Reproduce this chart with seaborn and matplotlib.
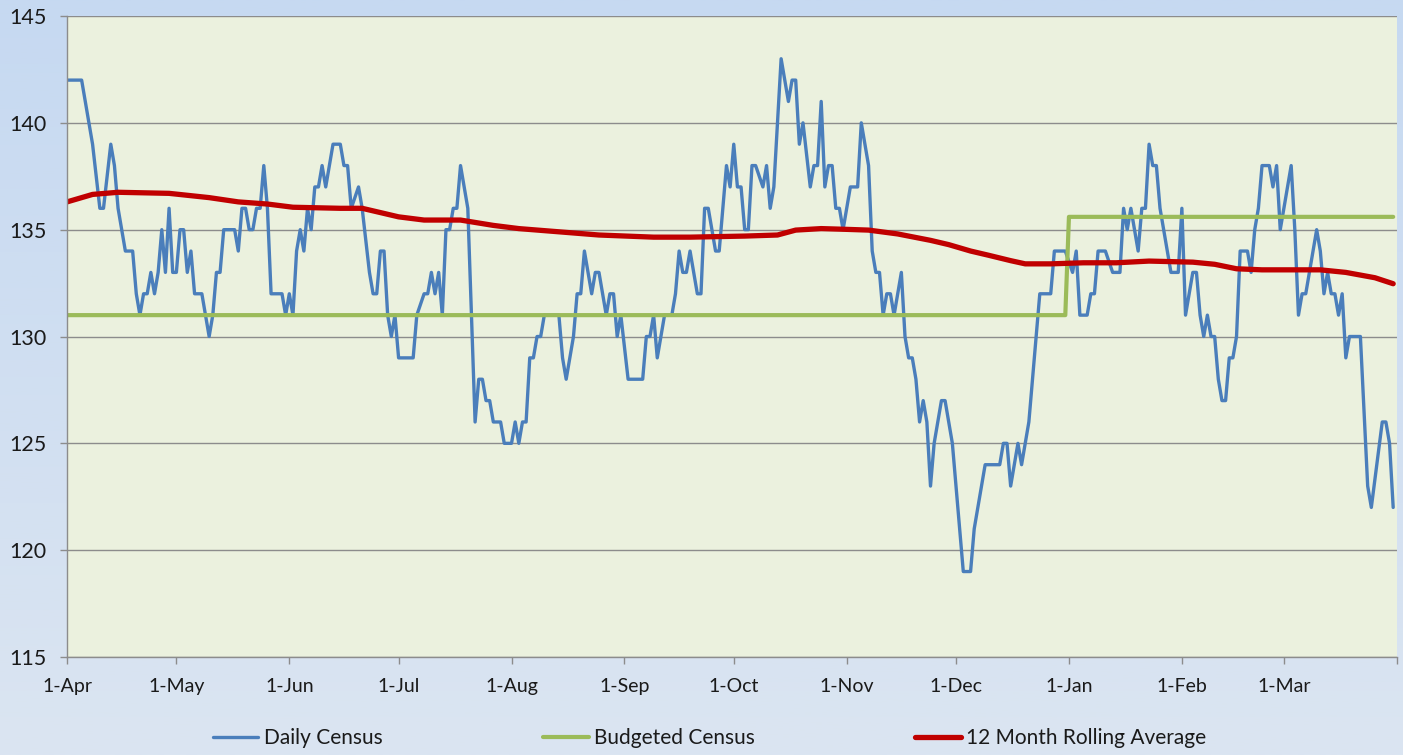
import numpy as np
import pandas as pd
import matplotlib
matplotlib.use("Agg")
import matplotlib.pyplot as plt
from matplotlib.colors import LinearSegmentedColormap
import seaborn as sns

# fiscal year, 1-Apr to 31-Mar
START = "2013-04-01"
MONTH_LABELS = ["1-Apr", "1-May", "1-Jun", "1-Jul", "1-Aug", "1-Sep",
                "1-Oct", "1-Nov", "1-Dec", "1-Jan", "1-Feb", "1-Mar"]

# daily census, read at the turning points of the line (day offset from 1-Apr)
CENSUS_DAY = [
    0, 4, 7, 9, 10, 12, 13, 14, 15, 16, 18, 19, 20, 21, 22, 23, 24, 25, 26, 27,
    28, 29, 30, 31, 32, 33, 34, 35, 37, 39, 40, 41, 42, 43, 46, 47, 48, 49, 50, 51,
    52, 53, 54, 55, 56, 59, 60, 61, 62, 63,
    64, 65, 66, 67, 68, 69, 70, 71, 73, 75, 76, 77, 78, 80, 81, 83, 84, 85, 86, 87,
    88, 89, 90, 91, 95, 96, 98, 99, 100, 101, 102, 103, 104, 105, 106, 107, 108, 110, 111, 112,
    113, 114, 115, 116, 117, 119, 120, 122, 123, 124,
    125, 126, 127, 128, 129, 130, 131, 135, 136, 137, 139, 140, 141, 142, 144, 145, 146, 147, 148, 149,
    150, 151, 152, 154, 158, 159, 160, 161, 162, 164, 166, 167, 168, 169, 170, 171, 173, 174, 175, 176,
    178, 179, 181, 182, 183, 184, 185, 186,
    187, 188, 189, 191, 192, 193, 194, 196, 198, 199, 200, 201, 202, 204, 205, 206, 207, 208, 209, 210,
    211, 212, 213, 214, 215, 217, 218, 219, 220, 221, 222, 223, 224, 225, 226, 227, 229, 230, 231, 232,
    233, 234, 235, 236, 237, 238, 240, 241, 243,
    246, 248, 249, 250, 252, 256, 257, 258, 259, 261, 262, 263, 264, 265, 266, 267, 270, 271, 274, 276,
    277, 278, 280, 281, 282, 283, 285, 287, 289, 290, 291, 292, 294, 295, 296, 297, 298, 299, 300, 303,
    305, 306, 307,
    309, 310, 311, 312, 313, 314, 315, 316, 317, 318, 319, 320, 321, 322, 324, 325, 326, 327, 328, 330,
    331, 332, 333, 336, 337, 338, 339, 340, 343, 344, 345, 346, 347, 348, 349, 350, 351, 352, 355, 357,
    358, 361, 362, 363, 364,
]
CENSUS = [
    142, 142, 139, 136, 136, 139, 138, 136, 135, 134, 134, 132, 131, 132, 132, 133, 132, 133, 135, 133,
    136, 133, 133, 135, 135, 133, 134, 132, 132, 130, 131, 133, 133, 135, 135, 134, 136, 136, 135, 135,
    136, 136, 138, 136, 132, 132, 131, 132, 131, 134,
    135, 134, 136, 135, 137, 137, 138, 137, 139, 139, 138, 138, 136, 137, 136, 133, 132, 132, 134, 134,
    131, 130, 131, 129, 129, 131, 132, 132, 133, 132, 133, 131, 135, 135, 136, 136, 138, 136, 131, 126,
    128, 128, 127, 127, 126, 126, 125, 125, 126, 125,
    126, 126, 129, 129, 130, 130, 131, 131, 129, 128, 130, 132, 132, 134, 132, 133, 133, 132, 131, 132,
    132, 130, 131, 128, 128, 130, 130, 131, 129, 131, 131, 132, 134, 133, 133, 134, 132, 132, 136, 136,
    134, 134, 138, 137, 139, 137, 137, 135,
    135, 138, 138, 137, 138, 136, 137, 143, 141, 142, 142, 139, 140, 137, 138, 138, 141, 137, 138, 138,
    136, 136, 135, 136, 137, 137, 140, 139, 138, 134, 133, 133, 131, 132, 132, 131, 133, 130, 129, 129,
    128, 126, 127, 126, 123, 125, 127, 127, 125,
    119, 119, 121, 122, 124, 124, 125, 125, 123, 125, 124, 125, 126, 128, 130, 132, 132, 134, 134, 133,
    134, 131, 131, 132, 132, 134, 134, 133, 133, 136, 135, 136, 134, 136, 136, 139, 138, 138, 136, 133,
    133, 136, 131,
    133, 133, 131, 130, 131, 130, 130, 128, 127, 127, 129, 129, 130, 134, 134, 133, 135, 136, 138, 138,
    137, 138, 135, 138, 135, 131, 132, 132, 135, 134, 132, 133, 132, 132, 131, 132, 129, 130, 130, 123,
    122, 126, 126, 125, 122,
]

# budgeted census per month (Apr..Mar)
BUDGET_MONTHLY = [131, 131, 131, 131, 131, 131, 131, 131, 131, 135.6, 135.6, 135.6]

# 12 month rolling average
ROLLING_DAY = [0, 7, 14, 28, 39, 47, 55, 62, 75, 81, 91, 98, 108, 117, 124, 135, 146, 161,
               171, 186, 195, 200, 207, 213, 220, 228, 237, 242, 248, 253, 259, 263, 270,
               279, 288, 297, 304, 309, 315, 321, 328, 344, 351, 359, 364]
ROLLING = [136.3, 136.65, 136.75, 136.7, 136.5, 136.3, 136.2, 136.05, 136.0, 136.0, 135.6,
           135.45, 135.45, 135.2, 135.05, 134.9, 134.75, 134.65, 134.65, 134.7, 134.75,
           134.98, 135.05, 135.02, 134.98, 134.8, 134.5, 134.3, 134.0, 133.8, 133.55, 133.4,
           133.4, 133.45, 133.45, 133.53, 133.5, 133.48, 133.38, 133.17, 133.12, 133.12,
           133.0, 132.75, 132.47]

sns.set_theme(style="white")
plt.rcParams["font.family"] = ["Lato", "DejaVu Sans"]

start = pd.Timestamp(START)
census = pd.DataFrame({"date": start + pd.to_timedelta(CENSUS_DAY, unit="D"), "value": CENSUS})
rolling = pd.DataFrame({"date": start + pd.to_timedelta(ROLLING_DAY, unit="D"), "value": ROLLING})

month_starts = pd.date_range(start, periods=12, freq="MS")
month_ends = month_starts + pd.offsets.MonthEnd(0)
budget = pd.DataFrame({
    "date": [d for s, e in zip(month_starts, month_ends) for d in (s, e)],
    "value": [v for v in BUDGET_MONTHLY for _ in range(2)],
})

fig = plt.figure(figsize=(14.03, 7.55), dpi=100)

# light blue gradient behind everything
bg = fig.add_axes([0, 0, 1, 1], zorder=-5)
grad = np.linspace(0, 1, 256).reshape(-1, 1)
bg.imshow(grad, aspect="auto", cmap=LinearSegmentedColormap.from_list("bg", ["#c6d9f1", "#dbe5f1"]),
          extent=[0, 1, 0, 1])
bg.axis("off")

ax = fig.add_axes([0.0478, 0.1298, 0.9478, 0.849])
ax.set_facecolor("#ebf1de")

sns.lineplot(data=census, x="date", y="value", ax=ax, color="#4a7ebb", linewidth=2.4,
             label="Daily Census")
sns.lineplot(data=budget, x="date", y="value", ax=ax, color="#9bbb59", linewidth=3.0,
             label="Budgeted Census")
sns.lineplot(data=rolling, x="date", y="value", ax=ax, color="#c00000", linewidth=3.8,
             label="12 Month Rolling Average")

ax.set_xlim(start, start + pd.Timedelta(days=365))
ax.set_ylim(115, 145)
ax.set_yticks(range(115, 146, 5))
ax.set_xticks(list(month_starts) + [start + pd.Timedelta(days=365)])
ax.set_xticklabels(MONTH_LABELS + [""])
ax.set_xlabel("")
ax.set_ylabel("")

ax.yaxis.grid(True, color="#8c8c8c", linewidth=1.0)
ax.xaxis.grid(False)
ax.tick_params(axis="y", direction="out", length=5, width=1, color="#8c8c8c",
               pad=10, labelsize=15.5, labelcolor="#1a1a1a", left=True)
ax.tick_params(axis="x", direction="out", length=5, width=1, color="#8c8c8c",
               pad=10, labelsize=14, labelcolor="#1a1a1a", bottom=True)
for side in ["top", "right"]:
    ax.spines[side].set_visible(False)
for side in ["left", "bottom"]:
    ax.spines[side].set_color("#8c8c8c")
    ax.spines[side].set_linewidth(1.0)

handles, labels = ax.get_legend_handles_labels()
ax.get_legend().remove()
fig.legend(handles, labels, loc="center", bbox_to_anchor=(0.5057, 0.022), ncol=3,
           frameon=False, fontsize=15, handlelength=2.2, handletextpad=0.25,
           columnspacing=7.7, labelcolor="#1a1a1a")

fig.savefig("out.png", dpi=100)
